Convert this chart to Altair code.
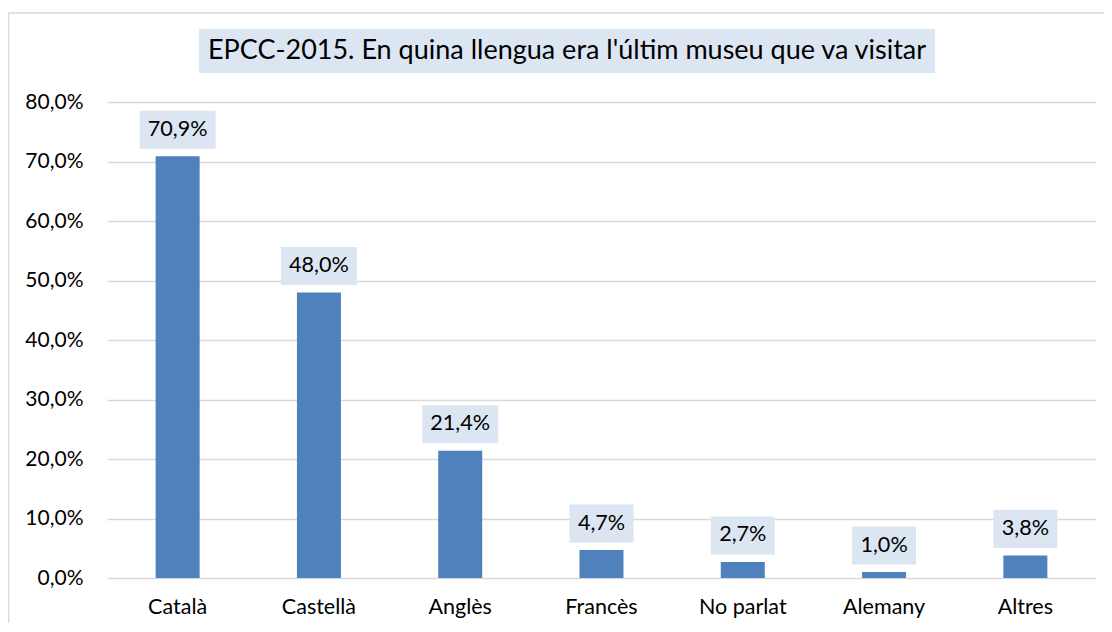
import altair as alt
import pandas as pd

categories = ["Català", "Castellà", "Anglès", "Francès", "No parlat", "Alemany", "Altres"]
values = [70.9, 48.0, 21.4, 4.7, 2.7, 1.0, 3.8]
y_ticks = [0, 10, 20, 30, 40, 50, 60, 70, 80]
title_text = "EPCC-2015. En quina llengua era l'últim museu que va visitar"

FONT = "Lato"
BAR = "#4F81BD"
BOX = "#DCE6F2"

df = pd.DataFrame({"cat": categories, "pct": values})

base = alt.Chart(df).transform_calculate(
    label="replace(format(datum.pct, '.1f'), '.', ',') + '%'",
    lo="datum.pct + 1.26",
    hi="datum.pct + 7.65",
)

x_enc = alt.X(
    "cat:N",
    sort=categories,
    scale=alt.Scale(paddingInner=0, paddingOuter=0),
    axis=alt.Axis(
        title=None, labelAngle=0, domain=False, ticks=False,
        labelPadding=18, labelFontSize=21.5, labelFont=FONT, labelColor="#000000",
    ),
)
y_enc = alt.Y(
    "pct:Q",
    scale=alt.Scale(domain=[0, 80], nice=False),
    axis=alt.Axis(
        title=None, values=y_ticks, domain=False, ticks=False,
        labelExpr="replace(format(datum.value, '.1f'), '.', ',') + '%'",
        gridColor="#D9D9D9", gridWidth=1.3, labelPadding=24,
        labelFontSize=21, labelFont=FONT, labelColor="#000000",
    ),
)

bars = base.mark_bar(size=44, color=BAR).encode(x=x_enc, y=y_enc)

box5 = base.transform_filter("length(datum.label) == 5").mark_bar(size=76, color=BOX).encode(
    x=alt.X("cat:N", sort=categories), y="lo:Q", y2="hi:Q"
)
box4 = base.transform_filter("length(datum.label) != 5").mark_bar(size=64, color=BOX).encode(
    x=alt.X("cat:N", sort=categories), y="lo:Q", y2="hi:Q"
)
texts = base.mark_text(dy=-26.5, baseline="middle", fontSize=21.6, font=FONT, color="#000000").encode(
    x=alt.X("cat:N", sort=categories), y="pct:Q", text="label:N"
)

tdf = pd.DataFrame({"t": [title_text]})
title_box = alt.Chart(tdf).mark_rect(color=BOX).encode(
    x=alt.value(92), x2=alt.value(828), y=alt.value(-73), y2=alt.value(-29)
)
title_txt = alt.Chart(tdf).mark_text(fontSize=27, font=FONT, color="#000000", baseline="middle").encode(
    x=alt.value(460), y=alt.value(-51), text="t:N"
)
border_top = alt.Chart(tdf).mark_rule(color="#D9D9D9", strokeWidth=1.5).encode(
    x=alt.value(-98.5), x2=alt.value(1200), y=alt.value(-89)
)
border_left = alt.Chart(tdf).mark_rule(color="#D9D9D9", strokeWidth=1.5).encode(
    x=alt.value(-98.5), y=alt.value(-89), y2=alt.value(700)
)

chart = alt.layer(border_top, border_left, title_box, title_txt, bars, box5, box4, texts).properties(
    width=989, height=476,
    padding={"left": 99, "top": 94, "right": 8, "bottom": 45},
    autosize=alt.AutoSizeParams(type="none"),
).configure_view(stroke=None)

chart.save("out.html", embed_options={"renderer": "svg", "actions": False})
